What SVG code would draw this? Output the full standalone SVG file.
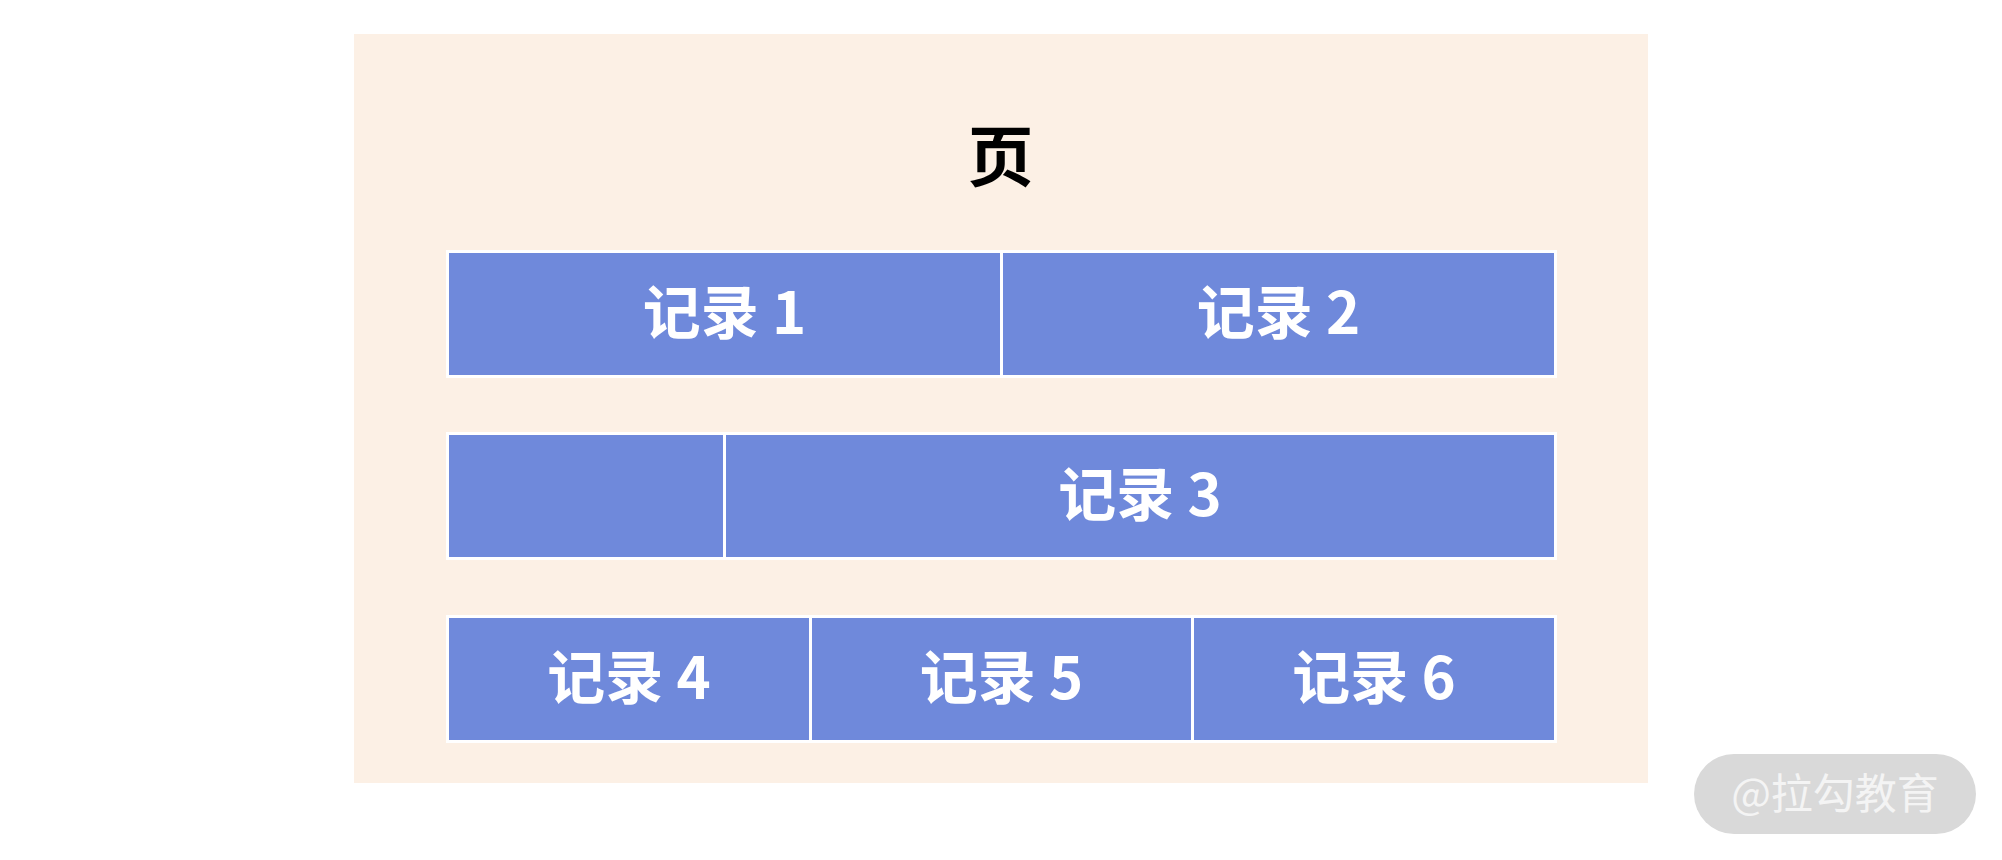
<svg xmlns="http://www.w3.org/2000/svg" width="2002" height="860" viewBox="0 0 2002 860">
  <style>
    .cell { fill: #6f89db; stroke: #ffffff; stroke-width: 3; }
    .lbl { font-family: "Noto Sans CJK SC", "Noto Sans", sans-serif; font-weight: bold; font-size: 58px; fill: #ffffff; text-anchor: middle; }
    .title { font-family: "Noto Sans CJK SC", "Noto Sans", sans-serif; font-weight: bold; font-size: 66px; fill: #000000; text-anchor: middle; }
    .wm { font-family: "Noto Sans CJK SC", "Noto Sans", sans-serif; font-size: 42px; fill: #f4f4f4; text-anchor: middle; }
  </style>
  <rect x="0" y="0" width="2002" height="860" fill="#ffffff"/>
  <g id="page">
    <rect x="354" y="34" width="1294" height="749" fill="#fcf0e5"/>
    <text class="title" x="1000.5" y="181">页</text>
  </g>
  <g id="record1">
    <rect class="cell" x="447.5" y="251.5" width="554" height="125"/>
    <text class="lbl" x="724.5" y="334">记录 1</text>
  </g>
  <g id="record2">
    <rect class="cell" x="1001.5" y="251.5" width="554" height="125"/>
    <text class="lbl" x="1278.5" y="334">记录 2</text>
  </g>
  <g id="record2-overflow">
    <rect class="cell" x="447.5" y="433.5" width="277" height="125"/>
  </g>
  <g id="record3">
    <rect class="cell" x="724.5" y="433.5" width="831" height="125"/>
    <text class="lbl" x="1140" y="516">记录 3</text>
  </g>
  <g id="record4">
    <rect class="cell" x="447.5" y="616.5" width="363" height="125"/>
    <text class="lbl" x="629" y="699">记录 4</text>
  </g>
  <g id="record5">
    <rect class="cell" x="810.5" y="616.5" width="382" height="125"/>
    <text class="lbl" x="1001.5" y="699">记录 5</text>
  </g>
  <g id="record6">
    <rect class="cell" x="1192.5" y="616.5" width="363" height="125"/>
    <text class="lbl" x="1374" y="699">记录 6</text>
  </g>
  <g id="connectors"></g>
  <g id="watermark">
    <rect x="1694" y="754" width="282" height="80" rx="40" fill="#d9d9d9"/>
    <text class="wm" x="1835" y="809">@拉勾教育</text>
  </g>
</svg>
